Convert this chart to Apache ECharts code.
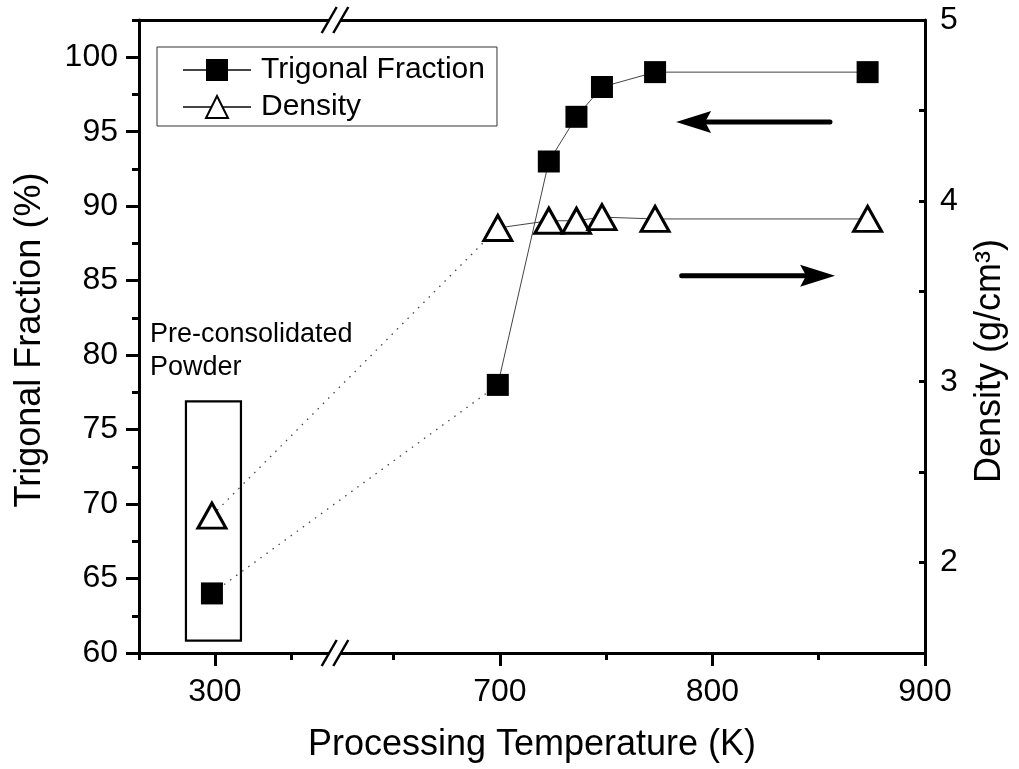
<!DOCTYPE html>
<html><head><meta charset="utf-8">
<script src="https://cdn.jsdelivr.net/npm/echarts@6/dist/echarts.min.js"></script>
<style>html,body{margin:0;padding:0;background:#fff}#c{width:1019px;height:769px}</style>
</head><body><div id="c"></div>
<script>
const FONT = '"Liberation Sans", Arial, sans-serif';
// ---- data ----
const seriesNames = ['Trigonal Fraction', 'Density'];
const tempPre = [298];
const tempMain = [699, 723, 736, 748, 773, 873];
const fractionPre = [64];
const fractionMain = [78, 93, 96, 98, 99, 99];
const densityPre = [2.26];
const densityMain = [3.85, 3.89, 3.89, 3.91, 3.90, 3.90];
// ---- ticks ----
const xLeftMajor = [300];
const xLeftMinor = [250, 350];
const xRightMajor = [700, 800, 900];
const xRightMinor = [650, 750, 850];
const yLeftMajor = [60, 65, 70, 75, 80, 85, 90, 95, 100];
const yLeftMinor = [62.5, 67.5, 72.5, 77.5, 82.5, 87.5, 92.5, 97.5, 102.5];
const yRightLabels = [2, 3, 4, 5];
const yRightTicks = [2, 2.5, 3, 3.5, 4, 4.5];
// ---- texts ----
const xTitle = 'Processing Temperature (K)';
const yLeftTitle = 'Trigonal Fraction (%)';
const yRightTitle = 'Density (g/cm³)';
const noteText = 'Pre-consolidated\nPowder';

const zip = (a, b) => a.map((v, i) => [v, b[i]]);
const BLACK = '#000';
const AX = 3;
const TICKFS = 32;

function xAx(grid, pos, min, max, ticks, len, labels) {
  return {
    gridIndex: grid, type: 'value', position: pos, min: min, max: max,
    axisLine: { show: !!labels || pos === 'top', onZero: false, lineStyle: { color: BLACK, width: AX } },
    axisTick: { show: !!ticks, customValues: ticks || [], length: len, lineStyle: { color: BLACK, width: AX } },
    axisLabel: labels ? { customValues: labels, fontSize: TICKFS, margin: 23, color: BLACK, fontFamily: FONT } : { show: false },
    splitLine: { show: false }
  };
}
function yAx(grid, pos, min, max, ticks, len, labels, inside, margin, show) {
  return {
    gridIndex: grid, type: 'value', position: pos, min: min, max: max, show: show !== false,
    axisLine: { show: !!labels, onZero: false, lineStyle: { color: BLACK, width: AX } },
    axisTick: { show: !!ticks, inside: !!inside, customValues: ticks || [], length: len, lineStyle: { color: BLACK, width: AX } },
    axisLabel: labels ? { customValues: labels, fontSize: TICKFS, margin: margin, color: BLACK, fontFamily: FONT } : { show: false },
    splitLine: { show: false }
  };
}

const chart = echarts.init(document.getElementById('c'), null, { renderer: 'canvas' });
const lineSt = { color: '#444', width: 1 };
const sq = { symbol: 'rect', symbolSize: 22, itemStyle: { color: BLACK }, lineStyle: lineSt };
const tri = { symbol: 'triangle', symbolSize: [28, 25], itemStyle: { color: '#fff', borderColor: BLACK, borderWidth: 3 }, lineStyle: lineSt };

chart.setOption({
  animation: false,
  backgroundColor: '#fff',
  textStyle: { fontFamily: FONT },
  grid: [
    { left: 139, top: 20, width: 196, height: 633 },
    { left: 335, top: 20, width: 590, height: 633 }
  ],
  xAxis: [
    xAx(0, 'bottom', 250, 379, xLeftMajor, 13, xLeftMajor),
    xAx(0, 'bottom', 250, 379, xLeftMinor, 7, null),
    xAx(0, 'top', 250, 379, null, 0, null),
    xAx(1, 'bottom', 622.4, 900, xRightMajor, 13, xRightMajor),
    xAx(1, 'bottom', 622.4, 900, xRightMinor, 7, null),
    xAx(1, 'top', 622.4, 900, null, 0, null)
  ],
  yAxis: [
    yAx(0, 'left', 60, 102.5, yLeftMajor, 13, yLeftMajor, false, 21),
    yAx(0, 'left', 60, 102.5, yLeftMinor, 7, null, false, 8),
    yAx(0, 'right', 1.5, 5, null, 0, null, false, 0, false),
    yAx(1, 'right', 1.5, 5, yRightTicks, 6, yRightLabels, true, 15),
    yAx(1, 'left', 60, 102.5, null, 0, null, false, 0, false)
  ],
  legend: {
    data: seriesNames, orient: 'vertical', left: 157, top: 47,
    padding: [8, 12, 4, 25], itemWidth: 68, itemHeight: 27.5, itemGap: 7,
    borderColor: '#333', borderWidth: 1, backgroundColor: '#fff',
    textStyle: { fontSize: 30, color: BLACK, fontFamily: FONT, padding: [0, 0, 0, 5] }
  },
  series: [
    Object.assign({ name: seriesNames[0], type: 'line', xAxisIndex: 0, yAxisIndex: 0, data: zip(tempPre, fractionPre), z: 3, silent: true }, sq),
    Object.assign({ name: seriesNames[0], type: 'line', xAxisIndex: 3, yAxisIndex: 4, data: zip(tempMain, fractionMain), z: 3, silent: true }, sq),
    Object.assign({ name: seriesNames[1], type: 'line', xAxisIndex: 0, yAxisIndex: 2, data: zip(tempPre, densityPre), z: 4, silent: true }, tri),
    Object.assign({ name: seriesNames[1], type: 'line', xAxisIndex: 3, yAxisIndex: 3, data: zip(tempMain, densityMain), z: 4, silent: true }, tri)
  ]
});

// ---- annotations placed through the chart's own scales ----
const P = (si, pt) => chart.convertToPixel({ seriesIndex: si }, pt);
const g = [];
function dotted(a, b) {
  g.push({ type: 'line', z: 1, shape: { x1: a[0], y1: a[1], x2: b[0], y2: b[1] }, style: { stroke: '#444', lineWidth: 1.3, lineDash: [1.5, 6] } });
}
dotted(P(0, [tempPre[0], fractionPre[0]]), P(1, [tempMain[0], fractionMain[0]]));
dotted(P(2, [tempPre[0], densityPre[0]]), P(3, [tempMain[0], densityMain[0]]));

function arrow(tail, tip) {
  const dir = Math.sign(tip[0] - tail[0]);
  const hl = 35, hw = 11;
  const base = tip[0] - dir * hl;
  g.push({ type: 'line', z: 10, shape: { x1: tail[0], y1: tail[1], x2: base + dir * 4, y2: tip[1] }, style: { stroke: BLACK, lineWidth: 5, lineCap: 'round' } });
  g.push({ type: 'polygon', z: 10, shape: { points: [[tip[0], tip[1]], [base, tip[1] - hw], [base + dir * 6, tip[1]], [base, tip[1] + hw]] }, style: { fill: BLACK } });
}
arrow(P(1, [855.3, 95.65]), P(1, [782.9, 95.65]));
arrow(P(3, [785.5, 3.586]), P(3, [857.7, 3.586]));

const b1 = P(0, [280.9, 76.9]), b2 = P(0, [317.1, 60.83]);
g.push({ type: 'rect', z: 5, shape: { x: b1[0], y: b1[1], width: b2[0] - b1[0], height: b2[1] - b1[1] }, style: { fill: 'none', stroke: BLACK, lineWidth: 2.2 } });
g.push({ type: 'text', z: 5, x: 150, y: 318, style: { text: noteText, fontSize: 27, lineHeight: 33, fontFamily: FONT, fill: BLACK, textVerticalAlign: 'top' } });

// axis break marks
[653, 20].forEach(function (yy) {
  g.push({ type: 'rect', z: 20, shape: { x: 329, y: yy - 4, width: 12, height: 8 }, style: { fill: '#fff' } });
  g.push({ type: 'line', z: 21, shape: { x1: 321.7, y1: yy + 13, x2: 336.7, y2: yy - 13 }, style: { stroke: BLACK, lineWidth: 2.5 } });
  g.push({ type: 'line', z: 21, shape: { x1: 333.3, y1: yy + 13, x2: 348.3, y2: yy - 13 }, style: { stroke: BLACK, lineWidth: 2.5 } });
});

// axis titles
const TFS = 36;
g.push({ type: 'text', z: 5, x: 532, y: 745, style: { text: xTitle, fontSize: TFS, fontFamily: FONT, fill: BLACK, textAlign: 'center', textVerticalAlign: 'middle' } });
g.push({ type: 'text', z: 5, x: 30, y: 340, rotation: Math.PI / 2, style: { text: yLeftTitle, fontSize: TFS, fontFamily: FONT, fill: BLACK, textAlign: 'center', textVerticalAlign: 'middle' } });
g.push({ type: 'text', z: 5, x: 990, y: 361, rotation: Math.PI / 2, style: { text: yRightTitle, fontSize: TFS, fontFamily: FONT, fill: BLACK, textAlign: 'center', textVerticalAlign: 'middle' } });

chart.setOption({ graphic: { elements: g } });
</script></body></html>
